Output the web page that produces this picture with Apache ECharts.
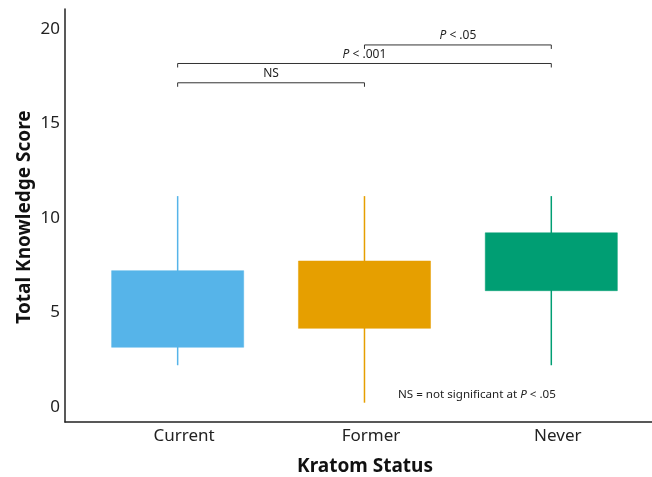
<!DOCTYPE html>
<html>
<head>
<meta charset="utf-8">
<script src="https://cdn.jsdelivr.net/npm/echarts@6/dist/echarts.min.js"></script>
<style>
html,body{margin:0;padding:0;background:#fff;}
#chart{width:652px;height:477px;}
</style>
</head>
<body>
<div id="chart"></div>
<script>
// ---- data ----
var categories = ['Current', 'Former', 'Never'];
var whiskerLow = [2.22, 0.24, 2.22];
var q1 = [3.17, 4.17, 6.16];
var q3 = [7.22, 7.73, 9.22];
var whiskerHigh = [11.16, 11.16, 11.16];
var yTicks = [0, 5, 10, 15, 20];

// significance brackets: from category, to category, height, label
var bracketFrom = [1, 1, 2];
var bracketTo = [2, 3, 3];
var bracketY = [17.15, 18.17, 19.15];
var bracketLabels = ['NS', 'P < .001', 'P < .05'];

var boxColors = ['#56B4E9', '#E69F00', '#009E73'];
var FONT = '"Noto Sans", "Open Sans", sans-serif';

var boxData = categories.map(function (c, i) {
  return [i + 1, whiskerLow[i], q1[i], q3[i], whiskerHigh[i]];
});
var bracketData = bracketFrom.map(function (f, i) {
  return [f, bracketTo[i], bracketY[i]];
});

function richLabel(s) {
  return s.indexOf('P') === 0 ? '{i|P}' + s.slice(1) : s;
}

var chart = echarts.init(document.getElementById('chart'), null, {renderer: 'canvas'});
chart.setOption({
  backgroundColor: '#fff',
  animation: false,
  grid: {left: 65, right: 0, top: 9, bottom: 55, containLabel: false},
  xAxis: {
    type: 'value',
    min: 0.397, max: 3.539,
    axisLine: {show: true, onZero: false, lineStyle: {color: '#222', width: 1.5}},
    axisTick: {show: false},
    splitLine: {show: false},
    axisLabel: {
      customValues: [1, 2, 3],
      formatter: function (v) { return categories[Math.round(v) - 1] || ''; },
      color: '#222', fontSize: 17, fontFamily: FONT, margin: 6,
      padding: [0, 0, 0, 13]
    }
  },
  yAxis: {
    type: 'value',
    min: -0.78, max: 21.05,
    axisLine: {show: true, onZero: false, lineStyle: {color: '#222', width: 1.5}},
    axisTick: {show: false},
    splitLine: {show: false},
    axisLabel: {
      customValues: yTicks,
      color: '#222', fontSize: 17, fontFamily: FONT, margin: 5
    }
  },
  series: [
    {
      type: 'custom',
      data: boxData,
      encode: {x: 0, y: [1, 2, 3, 4]},
      renderItem: function (params, api) {
        var x = api.value(0);
        var pLow = api.coord([x, api.value(1)]);
        var pQ1 = api.coord([x, api.value(2)]);
        var pQ3 = api.coord([x, api.value(3)]);
        var pHigh = api.coord([x, api.value(4)]);
        var w = api.size([0.707, 0])[0];
        var col = boxColors[params.dataIndex];
        return {
          type: 'group',
          children: [
            {type: 'line', shape: {x1: pHigh[0], y1: pHigh[1], x2: pLow[0], y2: pLow[1]},
             style: {stroke: col, lineWidth: 1.5}},
            {type: 'rect', shape: {x: pQ3[0] - w / 2, y: pQ3[1], width: w, height: pQ1[1] - pQ3[1]},
             style: {fill: col, stroke: col, lineWidth: 0.5}}
          ]
        };
      }
    },
    {
      type: 'custom',
      data: bracketData,
      encode: {x: [0, 1], y: 2},
      renderItem: function (params, api) {
        var y = api.value(2);
        var a = api.coord([api.value(0), y]);
        var b = api.coord([api.value(1), y]);
        var tick = 4;
        return {
          type: 'group',
          children: [
            {type: 'polyline', shape: {points: [[a[0], a[1] + tick], [a[0], a[1]], [b[0], b[1]], [b[0], b[1] + tick]]},
             style: {stroke: '#333', lineWidth: 1, fill: null}},
            {type: 'text', style: {
              text: richLabel(bracketLabels[params.dataIndex]),
              x: (a[0] + b[0]) / 2, y: a[1] - 9,
              align: 'center', verticalAlign: 'middle',
              fill: '#222', font: '12px ' + FONT,
              rich: {i: {fontStyle: 'italic', fontSize: 12, fontFamily: FONT, fill: '#222'}}
            }}
          ]
        };
      }
    }
  ],
  graphic: [
    {type: 'text', x: 25, y: 217, rotation: Math.PI / 2,
     style: {text: 'Total Knowledge Score', align: 'center', verticalAlign: 'middle',
             font: 'bold 19px ' + FONT, fill: '#111'}},
    {type: 'text', x: 365, y: 467,
     style: {text: 'Kratom Status', align: 'center', verticalAlign: 'middle',
             font: 'bold 19px ' + FONT, fill: '#111'}},
    {type: 'text', x: 398, y: 395,
     style: {text: 'NS = not significant at {i|P} < .05', align: 'left', verticalAlign: 'middle',
             font: '11.6px ' + FONT, fill: '#222',
             rich: {i: {fontStyle: 'italic', fontSize: 11.6, fontFamily: FONT, fill: '#222'}}}}
  ]
});
</script>
</body>
</html>
